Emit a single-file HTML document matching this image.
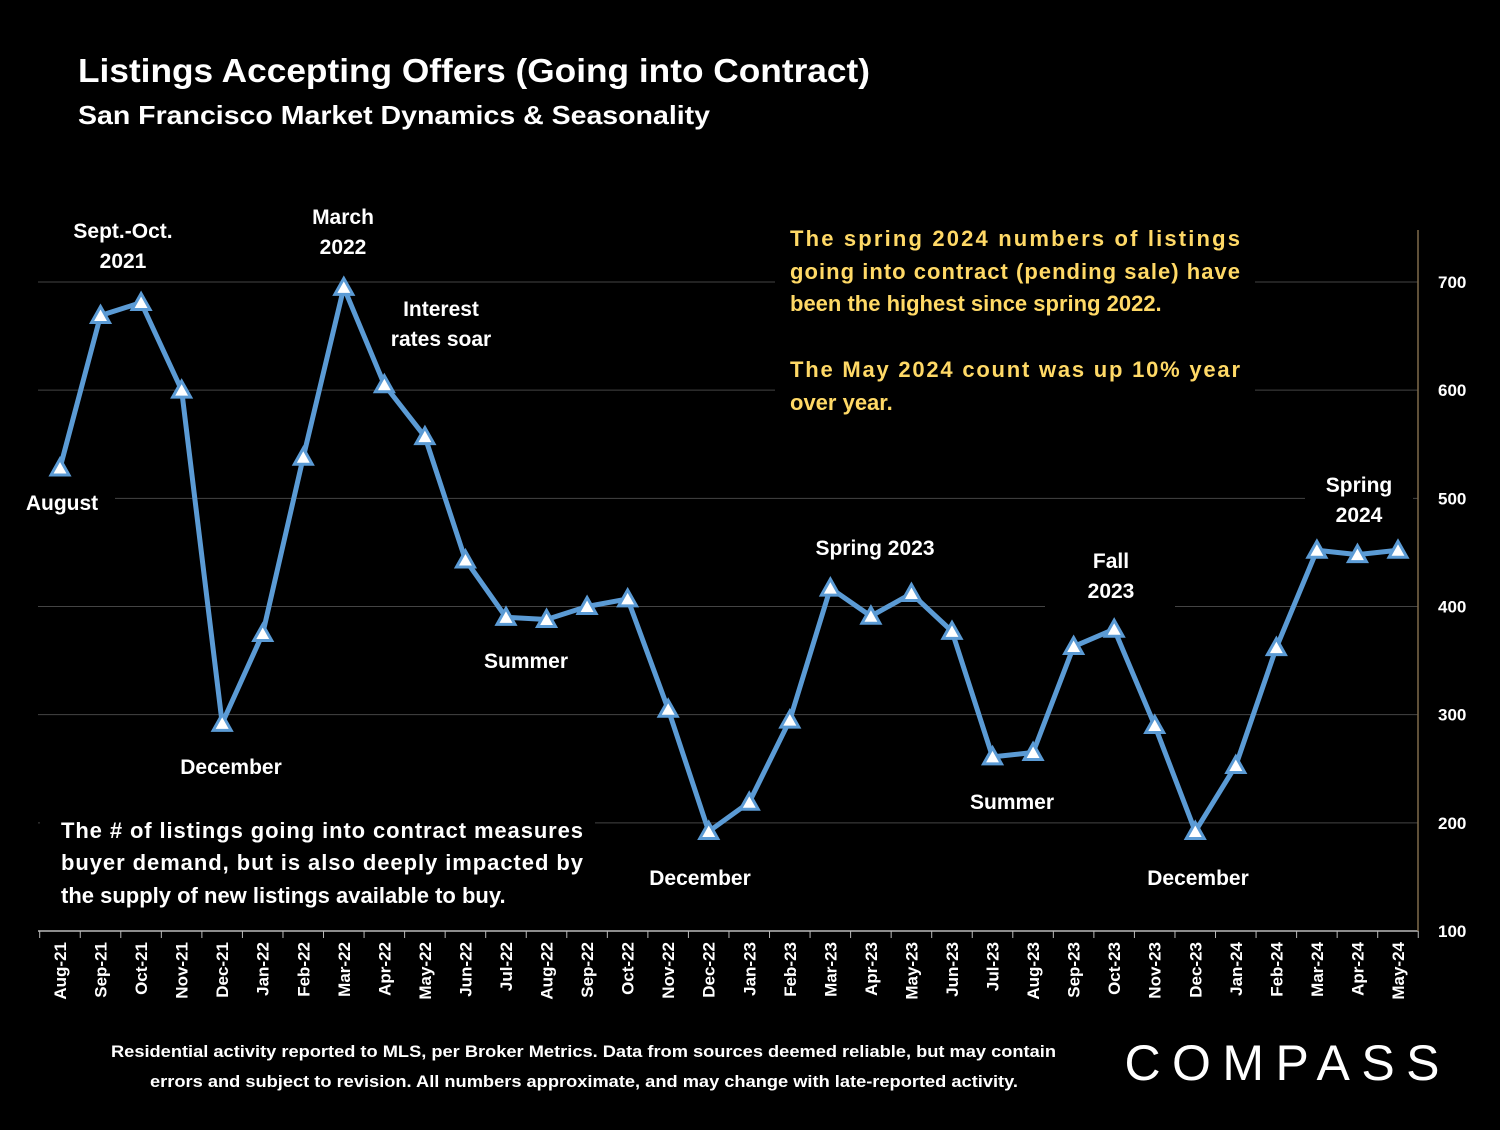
<!DOCTYPE html>
<html><head><meta charset="utf-8"><style>
body{margin:0;background:#000;width:1500px;height:1125px;overflow:hidden;font-family:"Liberation Sans",sans-serif}
</style></head><body>
<svg width="1500" height="1125" xmlns="http://www.w3.org/2000/svg" style="font-family:'Liberation Sans',sans-serif;font-weight:bold">
<rect width="1500" height="1125" fill="#000"/>
<text x="78" y="82" fill="#fff" font-size="33" textLength="792" lengthAdjust="spacingAndGlyphs">Listings Accepting Offers (Going into Contract)</text>
<text x="78" y="124" fill="#fff" font-size="26" textLength="632" lengthAdjust="spacingAndGlyphs">San Francisco Market Dynamics &amp; Seasonality</text>
<g id="grid"></g>
<g id="axes"></g>
<g id="boxes"></g>
<g id="series"></g>
<g id="labels" fill="#fff" font-size="21" text-anchor="middle">
<text x="123" y="238">Sept.-Oct.</text><text x="123" y="268">2021</text>
<text x="343" y="224">March</text><text x="343" y="254">2022</text>
<text x="441" y="316">Interest</text><text x="441" y="346">rates soar</text>
<text x="62" y="510">August</text>
<text x="231" y="774">December</text>
<text x="526" y="668">Summer</text>
<text x="700" y="885">December</text>
<text x="875" y="555">Spring 2023</text>
<text x="1012" y="809">Summer</text>
<text x="1111" y="568">Fall</text><text x="1111" y="598">2023</text>
<text x="1198" y="885">December</text>
<text x="1359" y="492">Spring</text><text x="1359" y="522">2024</text>
</g>
<g fill="#ffd966" font-size="22">
<text x="790" y="246" textLength="450" lengthAdjust="spacing">The spring 2024 numbers of listings</text>
<text x="790" y="279" textLength="450" lengthAdjust="spacing">going into contract (pending sale) have</text>
<text x="790" y="311">been the highest since spring 2022.</text>
<text x="790" y="377" textLength="450" lengthAdjust="spacing">The May 2024 count was up 10% year</text>
<text x="790" y="410">over year.</text>
</g>
<g fill="#fff" font-size="22">
<text x="61" y="838" textLength="522" lengthAdjust="spacing">The # of listings going into contract measures</text>
<text x="61" y="870" textLength="522" lengthAdjust="spacing">buyer demand, but is also deeply impacted by</text>
<text x="61" y="903">the supply of new listings available to buy.</text>
</g>
<g fill="#fff" font-size="17">
<text x="111" y="1057" textLength="945" lengthAdjust="spacingAndGlyphs">Residential activity reported to MLS, per Broker Metrics. Data from sources deemed reliable, but may contain</text>
<text x="150" y="1087" textLength="868" lengthAdjust="spacingAndGlyphs">errors and subject to revision. All numbers approximate, and may change with late-reported activity.</text>
</g>
<text x="1282" y="1080" fill="#fff" font-size="50" font-weight="normal" textLength="315" lengthAdjust="spacing" text-anchor="middle">COMPASS</text>
</svg>
<script>
const categories=["Aug-21","Sep-21","Oct-21","Nov-21","Dec-21","Jan-22","Feb-22","Mar-22","Apr-22","May-22","Jun-22","Jul-22","Aug-22","Sep-22","Oct-22","Nov-22","Dec-22","Jan-23","Feb-23","Mar-23","Apr-23","May-23","Jun-23","Jul-23","Aug-23","Sep-23","Oct-23","Nov-23","Dec-23","Jan-24","Feb-24","Mar-24","Apr-24","May-24"];
const values=[528,669,681,600,292,375,538,695,605,557,443,390,388,400,407,305,192,219,295,417,391,412,377,261,265,363,379,290,192,253,362,452,448,452];
const yTicks=[100,200,300,400,500,600,700];
const NS="http://www.w3.org/2000/svg";
const x=i=>60+i*(1398-60)/(categories.length-1);
const y=v=>931-(v-100)*649/600;
function mk(t,a,p){const e=document.createElementNS(NS,t);for(const k in a)e.setAttribute(k,a[k]);document.getElementById(p).appendChild(e);return e;}
yTicks.forEach(t=>{
 if(t>100){const g=mk('line',{x1:38,x2:1418,y1:y(t),y2:y(t),stroke:'#444','stroke-width':1},'grid');
 
 }
 const l=mk('text',{x:1438,y:y(t)+6,fill:'#fff','font-size':17},'axes');l.textContent=t;
 
 
});
mk('line',{x1:38,x2:1418,y1:931,y2:931,stroke:'#bbb','stroke-width':1.5},'axes');
for(let i=0;i<=categories.length;i++){mk('line',{x1:x(i)-20.3,x2:x(i)-20.3,y1:931,y2:938,stroke:'#bbb'},'axes');}
categories.forEach((c,i)=>{
 const t=mk('text',{x:0,y:0,fill:'#fff','font-size':17,'text-anchor':'end',transform:`translate(${x(i)+6},942) rotate(-90)`},'axes');t.textContent=c;
 
 
});
[[20,205,210,75],[290,200,110,62],[372,290,140,65],[15,485,100,35],[775,225,480,200],[1045,545,130,65],[1305,470,108,60],[40,815,555,100]].forEach(b=>{mk('rect',{x:b[0],y:b[1],width:b[2],height:b[3],fill:'#000'},'boxes');});
mk('line',{x1:1418,x2:1418,y1:230,y2:931,stroke:'#7f6a4a','stroke-width':1.5},'boxes');
const pts=values.map((v,i)=>x(i)+','+y(v)).join(' ');
const pl=mk('polyline',{points:pts,fill:'none',stroke:'#5b9bd5','stroke-width':5,'stroke-linejoin':'round'},'series');


values.forEach((v,i)=>{
 const cx=x(i),cy=y(v);
 const m=mk('polygon',{points:`${cx},${cy-9} ${cx-9},${cy+7} ${cx+9},${cy+7}`,fill:'#fff',stroke:'#5b9bd5','stroke-width':3},'series');
 
 
});
</script>
</body></html>
